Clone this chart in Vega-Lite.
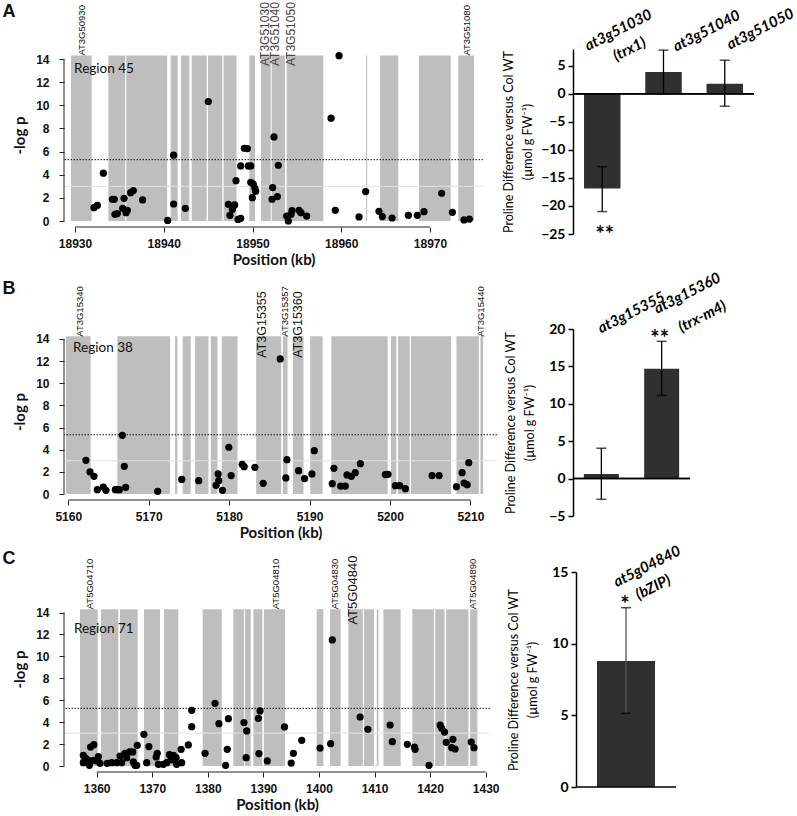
{
"$schema": "https://vega.github.io/schema/vega-lite/v6.json",
"padding": {"left": 2, "top": 2, "right": 0, "bottom": 0},
"config": {"view": {"stroke": null}, "axis": {"grid": false, "labelOverlap": false, "tickCount": 40, "format": "d"}},
"datasets": {
"bandsA": [{"s":18929.55,"e":18931.88},{"s":18933.76,"e":18935.66},{"s":18935.78,"e":18940.38},{"s":18940.78,"e":18941.57},{"s":18941.94,"e":18942.88},{"s":18943.15,"e":18944.84},{"s":18944.99,"e":18946.6},{"s":18946.75,"e":18948.2},{"s":18949.64,"e":18950.28},{"s":18950.96,"e":18952.05},{"s":18952.16,"e":18953.66},{"s":18953.85,"e":18957.98},{"s":18962.8,"e":18962.92},{"s":18964.37,"e":18966.43},{"s":18968.76,"e":18972.33},{"s":18973.19,"e":18974.96}],
"ptsA": [{"x":18932.14,"y":1.15},{"x":18932.52,"y":1.36},{"x":18933.19,"y":4.13},{"x":18934.21,"y":1.88},{"x":18934.43,"y":1.88},{"x":18934.5,"y":0.58},{"x":18934.77,"y":0.64},{"x":18935.37,"y":1.1},{"x":18935.52,"y":1.96},{"x":18935.75,"y":0.72},{"x":18935.9,"y":0.92},{"x":18936.27,"y":2.45},{"x":18936.57,"y":2.63},{"x":18937.62,"y":1.82},{"x":18940.44,"y":0.05},{"x":18941.11,"y":5.69},{"x":18941.11,"y":1.47},{"x":18942.43,"y":1.1},{"x":18945.02,"y":10.33},{"x":18947.28,"y":1.44},{"x":18947.46,"y":0.49},{"x":18947.73,"y":1.01},{"x":18947.99,"y":1.39},{"x":18948.14,"y":3.49},{"x":18948.37,"y":0.14},{"x":18948.67,"y":0.23},{"x":18948.67,"y":4.76},{"x":18949.08,"y":6.29},{"x":18949.42,"y":6.26},{"x":18949.53,"y":4.76},{"x":18949.8,"y":4.76},{"x":18949.8,"y":3.35},{"x":18949.98,"y":2.02},{"x":18950.09,"y":3.18},{"x":18950.28,"y":2.8},{"x":18950.36,"y":2.57},{"x":18952.2,"y":1.88},{"x":18952.27,"y":2.89},{"x":18952.42,"y":7.27},{"x":18952.8,"y":2.11},{"x":18952.91,"y":4.82},{"x":18953.85,"y":0.43},{"x":18954.04,"y":0.0},{"x":18954.34,"y":0.58},{"x":18954.45,"y":0.9},{"x":18955.24,"y":0.92},{"x":18955.46,"y":0.72},{"x":18956.1,"y":0.43},{"x":18958.85,"y":8.89},{"x":18959.33,"y":0.92},{"x":18959.75,"y":14.29},{"x":18962.0,"y":0.35},{"x":18962.75,"y":2.54},{"x":18964.25,"y":0.84},{"x":18964.63,"y":0.38},{"x":18965.72,"y":0.26},{"x":18967.56,"y":0.49},{"x":18968.57,"y":0.49},{"x":18969.32,"y":0.81},{"x":18971.31,"y":2.4},{"x":18972.52,"y":0.75},{"x":18973.83,"y":0.09},{"x":18974.43,"y":0.17}],
"genesAs": [{"x":18930.75,"t":"AT3G50930"},{"x":18974.2,"t":"AT3G51080"}],
"genesAl": [{"x":18951.41,"t":"AT3G51030"},{"x":18952.57,"t":"AT3G51040"},{"x":18954.3,"t":"AT3G51050"}],
"bandsB": [{"s":5159.71,"e":5162.78},{"s":5166.1,"e":5172.66},{"s":5173.28,"e":5173.57},{"s":5174.23,"e":5175.23},{"s":5175.77,"e":5177.43},{"s":5177.72,"e":5178.55},{"s":5179.09,"e":5181.04},{"s":5183.36,"e":5186.47},{"s":5186.68,"e":5187.26},{"s":5187.93,"e":5189.25},{"s":5190.08,"e":5191.62},{"s":5192.7,"e":5199.71},{"s":5200.12,"e":5200.79},{"s":5201.0,"e":5202.45},{"s":5202.61,"e":5207.59},{"s":5208.26,"e":5211.04},{"s":5211.24,"e":5211.58}],
"ptsB": [{"x":5162.2,"y":3.04},{"x":5162.7,"y":1.99},{"x":5163.2,"y":1.6},{"x":5163.61,"y":0.39},{"x":5164.36,"y":0.63},{"x":5164.69,"y":0.33},{"x":5165.85,"y":0.39},{"x":5166.1,"y":0.39},{"x":5166.35,"y":0.39},{"x":5166.72,"y":5.3},{"x":5166.97,"y":2.5},{"x":5167.14,"y":0.6},{"x":5171.12,"y":0.24},{"x":5174.11,"y":1.32},{"x":5176.22,"y":1.2},{"x":5178.38,"y":0.78},{"x":5178.63,"y":1.81},{"x":5178.71,"y":1.2},{"x":5179.17,"y":0.33},{"x":5179.96,"y":4.22},{"x":5180.25,"y":1.66},{"x":5181.62,"y":2.68},{"x":5181.87,"y":2.47},{"x":5183.2,"y":2.41},{"x":5184.23,"y":0.96},{"x":5186.35,"y":12.2},{"x":5187.05,"y":1.45},{"x":5187.18,"y":3.1},{"x":5188.63,"y":2.11},{"x":5189.38,"y":1.39},{"x":5190.29,"y":1.81},{"x":5190.58,"y":3.91},{"x":5192.82,"y":0.93},{"x":5193.03,"y":2.32},{"x":5193.86,"y":0.72},{"x":5194.44,"y":0.72},{"x":5194.65,"y":1.72},{"x":5195.19,"y":1.6},{"x":5195.68,"y":1.93},{"x":5196.31,"y":2.74},{"x":5199.42,"y":1.75},{"x":5199.75,"y":1.78},{"x":5200.66,"y":0.75},{"x":5201.2,"y":0.75},{"x":5201.91,"y":0.48},{"x":5205.23,"y":1.66},{"x":5206.1,"y":1.66},{"x":5208.26,"y":0.66},{"x":5208.96,"y":1.93},{"x":5209.21,"y":0.99},{"x":5209.59,"y":0.84},{"x":5209.79,"y":2.83}],
"genesBs": [{"x":5161.45,"t":"AT3G15340"},{"x":5186.97,"t":"AT3G15357"},{"x":5211.33,"t":"AT3G15440"}],
"genesBl": [{"x":5184.07,"t":"AT3G15355"},{"x":5188.55,"t":"AT3G15360"}],
"bandsC": [{"s":1357.0,"e":1360.18},{"s":1360.78,"e":1363.9},{"s":1364.2,"e":1367.38},{"s":1368.52,"e":1371.4},{"s":1372.12,"e":1374.7},{"s":1379.08,"e":1382.5},{"s":1384.6,"e":1386.52},{"s":1386.7,"e":1387.72},{"s":1388.2,"e":1389.81},{"s":1390.1,"e":1393.9},{"s":1399.6,"e":1400.8},{"s":1402.0,"e":1403.9},{"s":1405.3,"e":1407.9},{"s":1408.1,"e":1409.9},{"s":1410.4,"e":1410.7},{"s":1411.6,"e":1414.7},{"s":1416.8,"e":1420.7},{"s":1420.9,"e":1422.6},{"s":1422.9,"e":1426.9},{"s":1427.2,"e":1428.5}],
"ptsC": [{"x":1357.6,"y":0.97},{"x":1358.0,"y":0.73},{"x":1357.6,"y":0.3},{"x":1358.5,"y":0.52},{"x":1358.7,"y":0.06},{"x":1358.9,"y":1.73},{"x":1359.5,"y":1.95},{"x":1359.4,"y":0.52},{"x":1360.0,"y":0.46},{"x":1360.3,"y":0.85},{"x":1360.6,"y":0.24},{"x":1361.9,"y":0.24},{"x":1362.7,"y":0.3},{"x":1363.6,"y":0.3},{"x":1364.2,"y":0.91},{"x":1364.5,"y":0.3},{"x":1365.1,"y":1.16},{"x":1365.4,"y":0.76},{"x":1365.9,"y":1.28},{"x":1366.5,"y":1.28},{"x":1366.6,"y":0.37},{"x":1366.9,"y":0.06},{"x":1367.2,"y":0.06},{"x":1367.3,"y":1.89},{"x":1368.5,"y":2.89},{"x":1369.0,"y":0.3},{"x":1369.4,"y":1.77},{"x":1370.7,"y":0.82},{"x":1370.9,"y":1.16},{"x":1371.1,"y":0.15},{"x":1372.0,"y":0.15},{"x":1372.6,"y":0.3},{"x":1373.1,"y":1.03},{"x":1373.4,"y":0.55},{"x":1373.8,"y":0.97},{"x":1374.3,"y":0.76},{"x":1374.4,"y":0.15},{"x":1375.3,"y":0.3},{"x":1375.2,"y":1.52},{"x":1376.5,"y":1.92},{"x":1377.1,"y":3.59},{"x":1377.1,"y":5.08},{"x":1379.5,"y":1.16},{"x":1381.3,"y":5.72},{"x":1382.0,"y":3.86},{"x":1383.2,"y":0.06},{"x":1383.5,"y":1.52},{"x":1383.7,"y":4.32},{"x":1386.5,"y":3.96},{"x":1386.9,"y":0.76},{"x":1387.0,"y":3.2},{"x":1389.1,"y":4.35},{"x":1389.2,"y":1.13},{"x":1389.4,"y":5.02},{"x":1390.7,"y":0.46},{"x":1393.8,"y":3.56},{"x":1395.0,"y":0.27},{"x":1395.4,"y":1.16},{"x":1396.9,"y":2.34},{"x":1400.2,"y":1.64},{"x":1402.1,"y":2.04},{"x":1402.4,"y":11.5},{"x":1407.4,"y":4.47},{"x":1408.8,"y":3.35},{"x":1412.8,"y":3.74},{"x":1413.2,"y":2.22},{"x":1415.9,"y":1.98},{"x":1417.2,"y":1.73},{"x":1417.3,"y":1.52},{"x":1419.8,"y":0.06},{"x":1421.8,"y":3.74},{"x":1422.1,"y":3.44},{"x":1422.6,"y":3.1},{"x":1422.9,"y":2.16},{"x":1423.9,"y":1.67},{"x":1424.1,"y":2.43},{"x":1424.5,"y":1.55},{"x":1427.4,"y":2.19},{"x":1427.9,"y":1.67}],
"genesCs": [{"x":1358.8,"t":"AT5G04710"},{"x":1392.2,"t":"AT5G04810"},{"x":1402.9,"t":"AT5G04830"},{"x":1427.8,"t":"AT5G04890"}],
"genesCl": [{"x":1406.1,"t":"AT5G04840"}],
"barA": [{"g":"at3g51030","v":-16.9,"lo":-21.0,"hi":-13.0},{"g":"at3g51040","v":3.9,"lo":0.0,"hi":7.8},{"g":"at3g51050","v":1.8,"lo":-2.2,"hi":6.0}],
"barB": [{"g":"at3g15355","v":0.63,"lo":-2.77,"hi":4.06},{"g":"at3g15360","v":14.69,"lo":11.1,"hi":18.35}],
"barC": [{"g":"at5g04840","v":8.79,"lo":5.14,"hi":12.51}]
},
"spacing": 3,
"vconcat": [
{"hconcat": [
{"width": 419, "height": 172,
"layer": [
{"data": {"name": "bandsA"}, "mark": {"type": "rect", "color": "#bebebe"},
"encoding": {"x": {"field": "s", "type": "quantitative", "scale": {"domain": [18928.76, 18975.97], "nice": false, "zero": false},
"axis": {"values": [18930, 18940, 18950, 18960, 18970], "tickCount": 40, "format": "d", "labelOverlap": false, "offset": 6, "domain": false, "tickColor": "#222", "tickSize": 5, "labelFont": "Liberation Sans", "labelFontWeight": "bold", "labelFontSize": 12, "labelColor": "#111", "labelPadding": 6, "title": "Position (kb)", "titleFont": "Lato", "titleFontSize": 15, "titleFontWeight": "bold", "titleColor": "#111", "titlePadding": 3}},
"x2": {"field": "e"},
"y": {"datum": 0, "type": "quantitative", "scale": {"domain": [0, 14.87], "nice": false},
"axis": {"values": [0, 2, 4, 6, 8, 10, 12, 14], "tickCount": 40, "format": "d", "labelOverlap": false, "domain": false, "tickColor": "#222", "tickSize": 5, "labelFont": "Liberation Sans", "labelFontWeight": "bold", "labelFontSize": 12, "labelColor": "#111", "labelPadding": 10, "title": "-log p", "titleFont": "Lato", "titleFontSize": 15, "titleFontWeight": "bold", "titleColor": "#111", "titlePadding": 8}},
"y2": {"datum": 14.3}}},
{"data": {"values": [{}]}, "mark": {"type": "rule", "color": "#e2e2e2"}, "encoding": {"y": {"datum": 3}}},
{"data": {"values": [{}]}, "mark": {"type": "rule", "color": "#111", "strokeDash": [1.5, 1.5]}, "encoding": {"y": {"datum": 5.3}}},
{"data": {"values": [{}]}, "mark": {"type": "rule", "color": "#222"}, "encoding": {"x": {"datum": 18928.76}, "y": {"datum": 0}, "y2": {"datum": 14}}},
{"data": {"values": [{}]}, "mark": {"type": "rule", "color": "#222", "yOffset": 6}, "encoding": {"x": {"datum": 18930}, "x2": {"datum": 18970}, "y": {"datum": 0}}},
{"data": {"name": "ptsA"}, "mark": {"type": "circle", "color": "black", "opacity": 1, "size": 52}, "encoding": {"x": {"field": "x", "type": "quantitative"}, "y": {"field": "y", "type": "quantitative"}}},
{"data": {"values": [{"t": "Region 45"}]}, "mark": {"type": "text", "font": "Lato", "fontSize": 13.5, "align": "left", "baseline": "middle", "color": "#111"}, "encoding": {"x": {"datum": 18929.9}, "y": {"datum": 13.1}, "text": {"field": "t"}}},
{"data": {"values": [{"t": "A"}]}, "mark": {"type": "text", "font": "Liberation Sans", "fontSize": 18, "fontWeight": "bold", "align": "center", "baseline": "middle", "dx": -55, "color": "#111"}, "encoding": {"x": {"datum": 18928.76}, "y": {"datum": 18.1}, "text": {"field": "t"}}},
{"data": {"name": "genesAs"}, "mark": {"type": "text", "font": "Liberation Sans", "fontSize": 9.5, "angle": 270, "align": "left", "baseline": "middle", "color": "#111"}, "encoding": {"x": {"field": "x", "type": "quantitative"}, "y": {"datum": 14.3}, "text": {"field": "t"}}},
{"data": {"name": "genesAl"}, "mark": {"type": "text", "font": "Liberation Sans", "fontSize": 12, "angle": 270, "align": "left", "baseline": "middle", "color": "#444"}, "encoding": {"x": {"field": "x", "type": "quantitative"}, "y": {"datum": 13.4}, "text": {"field": "t"}}}
]},
{"width": 181, "height": 185, "data": {"name": "barA"},
"layer": [
{"mark": {"type": "bar", "color": "#303030"},
"encoding": {"x": {"field": "g", "type": "nominal", "sort": null, "axis": null, "scale": {"paddingInner": 0.405, "paddingOuter": 0.18}},
"y": {"field": "v", "type": "quantitative", "scale": {"domain": [-25, 8], "nice": false},
"axis": {"values": [-25, -20, -15, -10, -5, 0, 5], "tickCount": 40, "format": "d", "labelOverlap": false, "domainColor": "black", "domainWidth": 1.5, "tickColor": "black", "tickWidth": 1.5, "tickSize": 5, "labelFont": "Lato", "labelFontWeight": "bold", "labelFontSize": 14, "labelColor": "black", "labelPadding": 3, "title": ["Proline Difference versus Col WT", "(µmol g FW⁻¹)"], "titleFont": "Lato", "titleFontWeight": "normal", "titleFontSize": 12.5, "titleLineHeight": 19, "titleColor": "black", "titlePadding": 6}}}},
{"mark": {"type": "rule", "color": "black", "strokeWidth": 1.5}, "encoding": {"y": {"datum": 0}}},
{"mark": {"type": "rule", "color": "black", "strokeWidth": 1.3}, "encoding": {"x": {"field": "g", "type": "nominal", "sort": null}, "y": {"field": "lo", "type": "quantitative"}, "y2": {"field": "hi"}}},
{"mark": {"type": "tick", "color": "black", "size": 10, "thickness": 1.5}, "encoding": {"x": {"field": "g", "type": "nominal", "sort": null}, "y": {"field": "lo", "type": "quantitative"}}},
{"mark": {"type": "tick", "color": "black", "size": 10, "thickness": 1.5}, "encoding": {"x": {"field": "g", "type": "nominal", "sort": null}, "y": {"field": "hi", "type": "quantitative"}}},
{"data": {"values": [{"g": "at3g51030", "t": "at3g51030"}]}, "mark": {"type": "text", "font": "Lato", "fontWeight": "bold", "fontStyle": "italic", "fontSize": 15, "angle": 333, "align": "center", "baseline": "middle", "dx": 14.3, "dy": 7.3}, "encoding": {"x": {"field": "g", "type": "nominal", "sort": null}, "y": {"datum": 11.4}, "text": {"field": "t"}}},
{"data": {"values": [{"g": "at3g51030", "t": "(trx1)"}]}, "mark": {"type": "text", "font": "Lato", "fontWeight": "bold", "fontStyle": "italic", "fontSize": 15, "angle": 333, "align": "center", "baseline": "middle", "dx": 24.1, "dy": 12.3}, "encoding": {"x": {"field": "g", "type": "nominal", "sort": null}, "y": {"datum": 8.0}, "text": {"field": "t"}}},
{"data": {"values": [{"g": "at3g51040", "t": "at3g51040"}]}, "mark": {"type": "text", "font": "Lato", "fontWeight": "bold", "fontStyle": "italic", "fontSize": 15, "angle": 333, "align": "center", "baseline": "middle", "dx": 38.3, "dy": 19.5}, "encoding": {"x": {"field": "g", "type": "nominal", "sort": null}, "y": {"datum": 11.25}, "text": {"field": "t"}}},
{"data": {"values": [{"g": "at3g51050", "t": "at3g51050"}]}, "mark": {"type": "text", "font": "Lato", "fontWeight": "bold", "fontStyle": "italic", "fontSize": 15, "angle": 333, "align": "center", "baseline": "middle", "dx": 31.6, "dy": 16.1}, "encoding": {"x": {"field": "g", "type": "nominal", "sort": null}, "y": {"datum": 11.6}, "text": {"field": "t"}}},
{"data": {"values": [{"g": "at3g51030", "t": "**"}]}, "mark": {"type": "text", "font": "Lato", "fontWeight": "bold", "fontSize": 22, "align": "center", "baseline": "middle", "dx": 2.5, "dy": 5}, "encoding": {"x": {"field": "g", "type": "nominal", "sort": null}, "y": {"datum": -24.3}, "text": {"field": "t"}}}
]}
], "spacing": 18},
{"hconcat": [
{"width": 433, "height": 165,
"layer": [
{"data": {"name": "bandsB"}, "mark": {"type": "rect", "color": "#bebebe"},
"encoding": {"x": {"field": "s", "type": "quantitative", "scale": {"domain": [5159.47, 5213.3], "nice": false, "zero": false},
"axis": {"values": [5160, 5170, 5180, 5190, 5200, 5210], "tickCount": 40, "format": "d", "labelOverlap": false, "offset": 6, "domain": false, "tickColor": "#222", "tickSize": 5, "labelFont": "Liberation Sans", "labelFontWeight": "bold", "labelFontSize": 12, "labelColor": "#111", "labelPadding": 6, "title": "Position (kb)", "titleFont": "Lato", "titleFontSize": 15, "titleFontWeight": "bold", "titleColor": "#111", "titlePadding": 3}},
"x2": {"field": "e"},
"y": {"datum": 0, "type": "quantitative", "scale": {"domain": [0, 14.9], "nice": false},
"axis": {"values": [0, 2, 4, 6, 8, 10, 12, 14], "tickCount": 40, "format": "d", "labelOverlap": false, "domain": false, "tickColor": "#222", "tickSize": 5, "labelFont": "Liberation Sans", "labelFontWeight": "bold", "labelFontSize": 12, "labelColor": "#111", "labelPadding": 10, "title": "-log p", "titleFont": "Lato", "titleFontSize": 15, "titleFontWeight": "bold", "titleColor": "#111", "titlePadding": 8}},
"y2": {"datum": 14.25}}},
{"data": {"values": [{}]}, "mark": {"type": "rule", "color": "#e2e2e2"}, "encoding": {"y": {"datum": 3}}},
{"data": {"values": [{}]}, "mark": {"type": "rule", "color": "#111", "strokeDash": [1.5, 1.5]}, "encoding": {"y": {"datum": 5.35}}},
{"data": {"values": [{}]}, "mark": {"type": "rule", "color": "#222"}, "encoding": {"x": {"datum": 5159.47}, "y": {"datum": 0}, "y2": {"datum": 14}}},
{"data": {"values": [{}]}, "mark": {"type": "rule", "color": "#222", "yOffset": 6}, "encoding": {"x": {"datum": 5160}, "x2": {"datum": 5210}, "y": {"datum": 0}}},
{"data": {"name": "ptsB"}, "mark": {"type": "circle", "color": "black", "opacity": 1, "size": 52}, "encoding": {"x": {"field": "x", "type": "quantitative"}, "y": {"field": "y", "type": "quantitative"}}},
{"data": {"values": [{"t": "Region 38"}]}, "mark": {"type": "text", "font": "Lato", "fontSize": 13.5, "align": "left", "baseline": "middle", "color": "#111"}, "encoding": {"x": {"datum": 5160.6}, "y": {"datum": 13.2}, "text": {"field": "t"}}},
{"data": {"values": [{"t": "B"}]}, "mark": {"type": "text", "font": "Liberation Sans", "fontSize": 18, "fontWeight": "bold", "align": "center", "baseline": "middle", "dx": -55, "color": "#111"}, "encoding": {"x": {"datum": 5159.47}, "y": {"datum": 18.5}, "text": {"field": "t"}}},
{"data": {"name": "genesBs"}, "mark": {"type": "text", "font": "Liberation Sans", "fontSize": 9.5, "angle": 270, "align": "left", "baseline": "middle", "color": "#111"}, "encoding": {"x": {"field": "x", "type": "quantitative"}, "y": {"datum": 14.2}, "text": {"field": "t"}}},
{"data": {"name": "genesBl"}, "mark": {"type": "text", "font": "Liberation Sans", "fontSize": 12.5, "angle": 270, "align": "left", "baseline": "middle", "color": "#111"}, "encoding": {"x": {"field": "x", "type": "quantitative"}, "y": {"datum": 12.3}, "text": {"field": "t"}}}
]},
{"width": 117, "height": 187, "data": {"name": "barB"},
"layer": [
{"mark": {"type": "bar", "color": "#303030"},
"encoding": {"x": {"field": "g", "type": "nominal", "sort": null, "axis": null, "scale": {"paddingInner": 0.42, "paddingOuter": 0.18}},
"y": {"field": "v", "type": "quantitative", "scale": {"domain": [-5, 20], "nice": false},
"axis": {"values": [-5, 0, 5, 10, 15, 20], "tickCount": 40, "format": "d", "labelOverlap": false, "domainColor": "black", "domainWidth": 1.5, "tickColor": "black", "tickWidth": 1.5, "tickSize": 5, "labelFont": "Lato", "labelFontWeight": "bold", "labelFontSize": 14, "labelColor": "black", "labelPadding": 3, "title": ["Proline Difference versus Col WT", "(µmol g FW⁻¹)"], "titleFont": "Lato", "titleFontWeight": "normal", "titleFontSize": 12.5, "titleLineHeight": 19, "titleColor": "black", "titlePadding": 12}}}},
{"mark": {"type": "rule", "color": "black", "strokeWidth": 1.5}, "encoding": {"y": {"datum": 0}}},
{"mark": {"type": "rule", "color": "black", "strokeWidth": 1.3}, "encoding": {"x": {"field": "g", "type": "nominal", "sort": null}, "y": {"field": "lo", "type": "quantitative"}, "y2": {"field": "hi"}}},
{"mark": {"type": "tick", "color": "black", "size": 10, "thickness": 1.5}, "encoding": {"x": {"field": "g", "type": "nominal", "sort": null}, "y": {"field": "lo", "type": "quantitative"}}},
{"mark": {"type": "tick", "color": "black", "size": 10, "thickness": 1.5}, "encoding": {"x": {"field": "g", "type": "nominal", "sort": null}, "y": {"field": "hi", "type": "quantitative"}}},
{"data": {"values": [{"g": "at3g15355", "t": "at3g15355"}]}, "mark": {"type": "text", "font": "Lato", "fontWeight": "bold", "fontStyle": "italic", "fontSize": 15, "angle": 333, "align": "center", "baseline": "middle", "dx": 26.7, "dy": 13.6}, "encoding": {"x": {"field": "g", "type": "nominal", "sort": null}, "y": {"datum": 22.2}, "text": {"field": "t"}}},
{"data": {"values": [{"g": "at3g15360", "t": "at3g15360"}]}, "mark": {"type": "text", "font": "Lato", "fontWeight": "bold", "fontStyle": "italic", "fontSize": 15, "angle": 333, "align": "center", "baseline": "middle", "dx": 22.7, "dy": 11.6}, "encoding": {"x": {"field": "g", "type": "nominal", "sort": null}, "y": {"datum": 24.8}, "text": {"field": "t"}}},
{"data": {"values": [{"g": "at3g15360", "t": "(trx-m4)"}]}, "mark": {"type": "text", "font": "Lato", "fontWeight": "bold", "fontStyle": "italic", "fontSize": 15, "angle": 333, "align": "center", "baseline": "middle", "dx": 36.1, "dy": 18.4}, "encoding": {"x": {"field": "g", "type": "nominal", "sort": null}, "y": {"datum": 21.7}, "text": {"field": "t"}}},
{"data": {"values": [{"g": "at3g15360", "t": "**"}]}, "mark": {"type": "text", "font": "Lato", "fontWeight": "bold", "fontSize": 22, "align": "center", "baseline": "middle", "dx": -2, "dy": 5}, "encoding": {"x": {"field": "g", "type": "nominal", "sort": null}, "y": {"datum": 19.3}, "text": {"field": "t"}}}
]}
], "spacing": 6},
{"hconcat": [
{"width": 426, "height": 194,
"layer": [
{"data": {"name": "bandsC"}, "mark": {"type": "rect", "color": "#bebebe"},
"encoding": {"x": {"field": "s", "type": "quantitative", "scale": {"domain": [1354.12, 1430.78], "nice": false, "zero": false},
"axis": {"values": [1360, 1370, 1380, 1390, 1400, 1410, 1420, 1430], "tickCount": 40, "format": "d", "labelOverlap": false, "offset": 6, "domain": false, "tickColor": "#222", "tickSize": 5, "labelFont": "Liberation Sans", "labelFontWeight": "bold", "labelFontSize": 12, "labelColor": "#111", "labelPadding": 6, "title": "Position (kb)", "titleFont": "Lato", "titleFontSize": 15, "titleFontWeight": "bold", "titleColor": "#111", "titlePadding": 3}},
"x2": {"field": "e"},
"y": {"datum": 0, "type": "quantitative", "scale": {"domain": [0, 17.7], "nice": false},
"axis": {"values": [0, 2, 4, 6, 8, 10, 12, 14], "tickCount": 40, "format": "d", "labelOverlap": false, "domain": false, "tickColor": "#222", "tickSize": 5, "labelFont": "Liberation Sans", "labelFontWeight": "bold", "labelFontSize": 12, "labelColor": "#111", "labelPadding": 10, "title": "-log p", "titleFont": "Lato", "titleFontSize": 15, "titleFontWeight": "bold", "titleColor": "#111", "titlePadding": 8}},
"y2": {"datum": 14.3}}},
{"data": {"values": [{}]}, "mark": {"type": "rule", "color": "#e2e2e2"}, "encoding": {"y": {"datum": 3}}},
{"data": {"values": [{}]}, "mark": {"type": "rule", "color": "#111", "strokeDash": [1.5, 1.5]}, "encoding": {"y": {"datum": 5.26}}},
{"data": {"values": [{}]}, "mark": {"type": "rule", "color": "#222"}, "encoding": {"x": {"datum": 1354.12}, "y": {"datum": 0}, "y2": {"datum": 14}}},
{"data": {"values": [{}]}, "mark": {"type": "rule", "color": "#222", "yOffset": 6}, "encoding": {"x": {"datum": 1360}, "x2": {"datum": 1430}, "y": {"datum": 0}}},
{"data": {"name": "ptsC"}, "mark": {"type": "circle", "color": "black", "opacity": 1, "size": 52}, "encoding": {"x": {"field": "x", "type": "quantitative"}, "y": {"field": "y", "type": "quantitative"}}},
{"data": {"values": [{"t": "Region 71"}]}, "mark": {"type": "text", "font": "Lato", "fontSize": 13.5, "align": "left", "baseline": "middle", "color": "#111"}, "encoding": {"x": {"datum": 1355.9}, "y": {"datum": 12.5}, "text": {"field": "t"}}},
{"data": {"values": [{"t": "C"}]}, "mark": {"type": "text", "font": "Liberation Sans", "fontSize": 18, "fontWeight": "bold", "align": "center", "baseline": "middle", "dx": -55, "color": "#111"}, "encoding": {"x": {"datum": 1354.12}, "y": {"datum": 18.9}, "text": {"field": "t"}}},
{"data": {"name": "genesCs"}, "mark": {"type": "text", "font": "Liberation Sans", "fontSize": 9.5, "angle": 270, "align": "left", "baseline": "middle", "color": "#111"}, "encoding": {"x": {"field": "x", "type": "quantitative"}, "y": {"datum": 14.3}, "text": {"field": "t"}}},
{"data": {"name": "genesCl"}, "mark": {"type": "text", "font": "Liberation Sans", "fontSize": 13, "angle": 270, "align": "left", "baseline": "middle", "color": "#111"}, "encoding": {"x": {"field": "x", "type": "quantitative"}, "y": {"datum": 12.9}, "text": {"field": "t"}}}
]},
{"width": 100, "height": 215, "data": {"name": "barC"},
"layer": [
{"mark": {"type": "bar", "color": "#303030", "width": {"band": 0.58}},
"encoding": {"x": {"field": "g", "type": "nominal", "sort": null, "axis": null, "scale": {"paddingInner": 0, "paddingOuter": 0}},
"y": {"field": "v", "type": "quantitative", "scale": {"domain": [0, 15], "nice": false},
"axis": {"values": [0, 5, 10, 15], "tickCount": 40, "format": "d", "labelOverlap": false, "domainColor": "black", "domainWidth": 1.5, "tickColor": "black", "tickWidth": 1.5, "tickSize": 5, "labelFont": "Lato", "labelFontWeight": "bold", "labelFontSize": 14, "labelColor": "black", "labelPadding": 3, "title": ["Proline Difference versus Col WT", "(µmol g FW⁻¹)"], "titleFont": "Lato", "titleFontWeight": "normal", "titleFontSize": 12.5, "titleLineHeight": 19, "titleColor": "black", "titlePadding": 12}}}},
{"mark": {"type": "rule", "color": "black", "strokeWidth": 1.5}, "encoding": {"y": {"datum": 0}}},
{"mark": {"type": "rule", "color": "#555", "strokeWidth": 1.3}, "encoding": {"x": {"field": "g", "type": "nominal", "sort": null}, "y": {"field": "lo", "type": "quantitative"}, "y2": {"field": "hi"}}},
{"mark": {"type": "tick", "color": "black", "size": 10, "thickness": 1.5}, "encoding": {"x": {"field": "g", "type": "nominal", "sort": null}, "y": {"field": "lo", "type": "quantitative"}}},
{"mark": {"type": "tick", "color": "black", "size": 10, "thickness": 1.5}, "encoding": {"x": {"field": "g", "type": "nominal", "sort": null}, "y": {"field": "hi", "type": "quantitative"}}},
{"data": {"values": [{"g": "at5g04840", "t": "at5g04840"}]}, "mark": {"type": "text", "font": "Lato", "fontWeight": "bold", "fontStyle": "italic", "fontSize": 15, "angle": 333, "align": "center", "baseline": "middle", "dx": 18.7, "dy": 9.5}, "encoding": {"x": {"field": "g", "type": "nominal", "sort": null}, "y": {"datum": 15.4}, "text": {"field": "t"}}},
{"data": {"values": [{"g": "at5g04840", "t": "(bZIP)"}]}, "mark": {"type": "text", "font": "Lato", "fontWeight": "bold", "fontStyle": "italic", "fontSize": 15, "angle": 333, "align": "center", "baseline": "middle", "dx": 24.1, "dy": 12.3}, "encoding": {"x": {"field": "g", "type": "nominal", "sort": null}, "y": {"datum": 13.95}, "text": {"field": "t"}}},
{"data": {"values": [{"g": "at5g04840", "t": "*"}]}, "mark": {"type": "text", "font": "Lato", "fontWeight": "bold", "fontSize": 22, "align": "center", "baseline": "middle", "dx": -1, "dy": 5}, "encoding": {"x": {"field": "g", "type": "nominal", "sort": null}, "y": {"datum": 13.05}, "text": {"field": "t"}}}
]}
], "spacing": 7}
]
}
